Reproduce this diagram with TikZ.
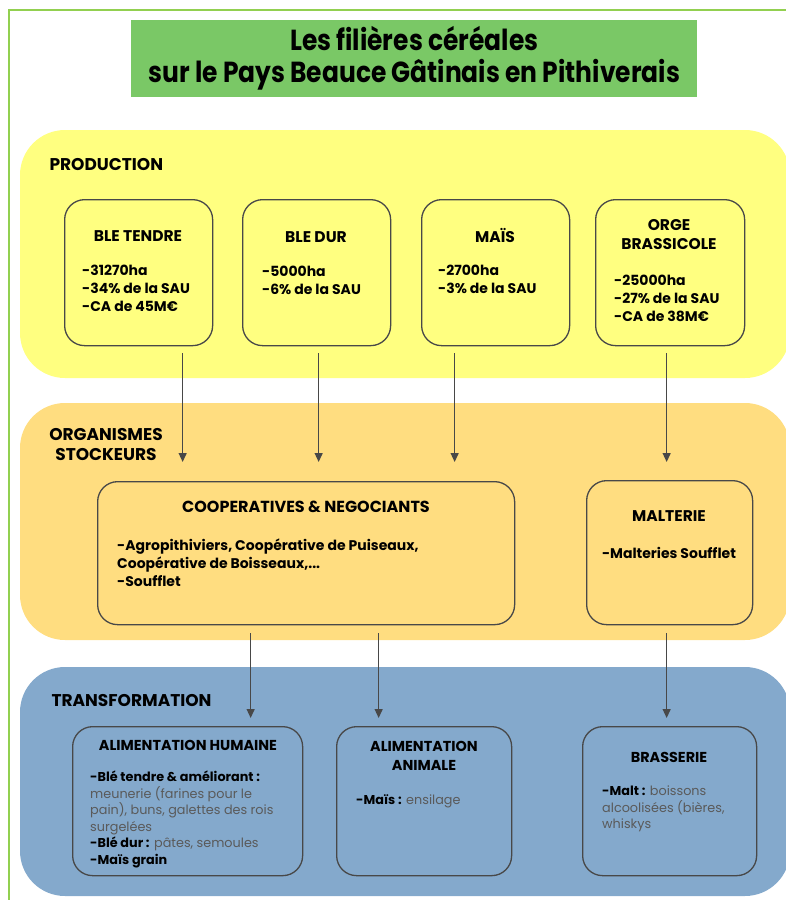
\documentclass[tikz,border=0pt]{standalone}
\usepackage{fontspec}
\setmainfont{Poppins}
\newfontfamily\titlefont[FakeStretch=0.86]{Poppins}
\usetikzlibrary{arrows.meta}

\definecolor{cadre}{RGB}{146,208,80}
\definecolor{titrevert}{RGB}{122,200,102}
\definecolor{jaune}{RGB}{255,255,128}
\definecolor{orangeclair}{RGB}{255,221,128}
\definecolor{bleu}{RGB}{132,169,204}
\definecolor{trait}{RGB}{72,72,72}
\definecolor{gristexte}{RGB}{90,90,90}

\newcommand{\gras}[1]{{\color{black}\bfseries #1}}

\tikzset{
  bande/.style={rounded corners=45pt},
  boite/.style={draw=trait, line width=1.3pt, rounded corners=20pt, anchor=north west, inner sep=0pt},
  rubrique/.style={font=\bfseries\fontsize{17}{20}\selectfont, align=center},
  entete/.style={font=\bfseries\fontsize{15.5}{19}\selectfont, align=center},
  liste/.style={font=\bfseries\fontsize{14}{18}\selectfont, align=left, anchor=north west, inner sep=0pt},
  petit/.style={font=\fontsize{12.8}{16.5}\selectfont, text=gristexte, align=left, anchor=north west, inner sep=0pt},
  fleche/.style={draw=trait, line width=1.3pt, -{Triangle[width=8pt,length=9pt]}},
}

\begin{document}
\begin{tikzpicture}[x=1pt,y=-1pt]
\useasboundingbox (0,0) rectangle (785,900);

% cadre vert
\draw[cadre, line width=2pt] (9,901) -- (9,10) -- (786,10);

% titre
\node[fill=titrevert, minimum width=566pt, minimum height=77pt, anchor=north west, inner sep=0pt,
      font=\titlefont\bfseries\fontsize{29}{32}\selectfont, align=center] (titre) at (131,20)
      {Les filières céréales\\sur le Pays Beauce Gâtinais en Pithiverais};

% les trois bandes
\fill[jaune, bande]       (20,130) rectangle (790,378);
\fill[orangeclair, bande] (20,403) rectangle (790,640);
\fill[bleu, bande]        (20,667) rectangle (790,896);

\node[rubrique, anchor=west] (prod) at (46,165) {PRODUCTION};
\node[rubrique] (stock) at (106,445) {ORGANISMES\\STOCKEURS};
\node[rubrique, anchor=west] (transfo) at (48,700) {TRANSFORMATION};

% production
\node[boite, minimum width=148pt, minimum height=146pt] (bt) at (64,199) {};
\node[entete] (bt-t) at (138,236) {BLE TENDRE};
\node[liste] (bt-l) at (82,265) {-31270ha\\-34\% de la SAU\\-CA de 45M€};

\node[boite, minimum width=148pt, minimum height=146pt] (bd) at (242,199) {};
\node[entete] (bd-t) at (316,237) {BLE DUR};
\node[liste] (bd-l) at (262,266) {-5000ha\\-6\% de la SAU};

\node[boite, minimum width=148pt, minimum height=146pt] (ma) at (421,199) {};
\node[entete] (ma-t) at (495,235) {MAÏS};
\node[liste] (ma-l) at (438,265) {-2700ha\\-3\% de la SAU};

\node[boite, minimum width=149pt, minimum height=146pt] (og) at (595,199) {};
\node[entete] (og-t) at (669,235) {ORGE\\BRASSICOLE};
\node[liste] (og-l) at (614,275) {-25000ha\\-27\% de la SAU\\-CA de 38M€};

% organismes stockeurs
\node[boite, minimum width=417pt, minimum height=143pt] (coop) at (97,481) {};
\node[entete, font=\bfseries\fontsize{16}{19}\selectfont] (coop-t) at (306,507) {COOPERATIVES \& NEGOCIANTS};
\node[liste] (coop-l) at (117,539) {-Agropithiviers, Coopérative de Puiseaux,\\Coopérative de Boisseaux,...\\-Soufflet};

\node[boite, minimum width=166pt, minimum height=144pt] (mal) at (586,480) {};
\node[entete] (mal-t) at (669,516) {MALTERIE};
\node[liste, anchor=center] (mal-l) at (669,553) {-Malteries Soufflet};

% transformation
\node[boite, minimum width=230pt, minimum height=149pt] (hum) at (72,726) {};
\node[entete, font=\bfseries\fontsize{14.4}{19}\selectfont] (hum-t) at (188,745) {ALIMENTATION HUMAINE};
\node[petit] (hum-l) at (90,771) {\gras{-Blé tendre \& améliorant :}\\meunerie (farines pour le\\pain), buns, galettes des rois\\surgelées\\\gras{-Blé dur :} pâtes, semoules\\\gras{-Maïs grain}};

\node[boite, minimum width=175pt, minimum height=149pt] (ani) at (336,726) {};
\node[entete, font=\bfseries\fontsize{14.4}{19}\selectfont] (ani-t) at (424,756) {ALIMENTATION\\ANIMALE};
\node[petit] (ani-l) at (356,794) {\gras{-Maïs :} ensilage};

\node[boite, minimum width=174pt, minimum height=149pt] (bra) at (582,726) {};
\node[entete, font=\bfseries\fontsize{14.4}{19}\selectfont] (bra-t) at (669,757) {BRASSERIE};
\node[petit] (bra-l) at (602,786) {\gras{-Malt :} boissons\\alcoolisées (bières,\\whiskys};

% fleches
\draw[fleche, shorten >=19pt] ([xshift=44pt,yshift=-7pt]bt.south) -- ([xshift=44pt]bt.south |- coop.north);
\draw[fleche, shorten >=19pt] ([xshift=2pt,yshift=-7pt]bd.south) -- ([xshift=2pt]bd.south |- coop.north);
\draw[fleche, shorten >=19pt] ([xshift=-41pt,yshift=-7pt]ma.south) -- ([xshift=-41pt]ma.south |- coop.north);
\draw[fleche, shorten >=18pt] ([xshift=-3.5pt,yshift=-7pt]og.south) -- ([xshift=-3.5pt]og.south |- mal.north);

\draw[fleche, shorten >=8pt] ([xshift=-55.5pt,yshift=-8pt]coop.south) -- ([xshift=-55.5pt]coop.south |- hum.north);
\draw[fleche, shorten >=8pt] ([xshift=72.5pt,yshift=-8pt]coop.south) -- ([xshift=72.5pt]coop.south |- ani.north);
\draw[fleche, shorten >=8pt] ([xshift=-3pt,yshift=-8pt]mal.south) -- ([xshift=-3pt]mal.south |- bra.north);
\end{tikzpicture}
\end{document}
